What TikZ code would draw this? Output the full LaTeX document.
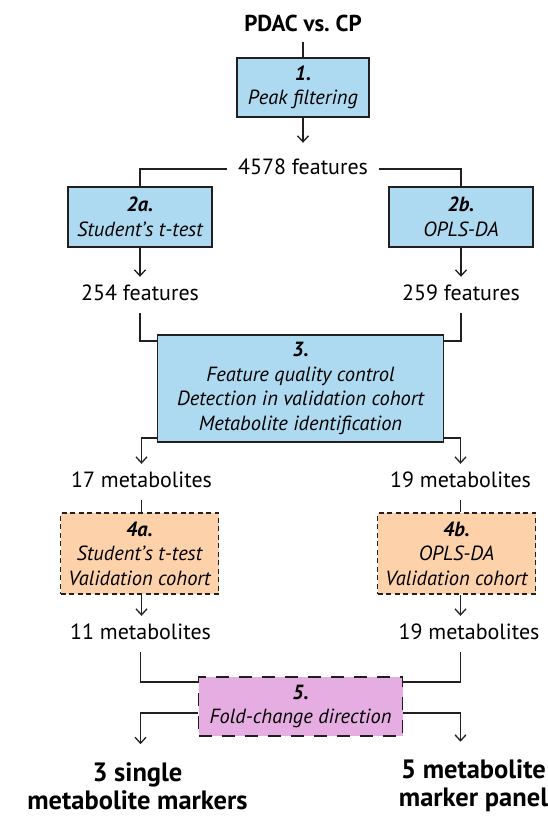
\documentclass[tikz,border=0pt]{standalone}
\usepackage{fontspec}
\setmainfont{PT Sans}
\usetikzlibrary{positioning, arrows.meta}

\definecolor{edgecol}{HTML}{231F20}
\definecolor{stepblue}{HTML}{ADDAF0}
\definecolor{steporange}{HTML}{FDD1A9}
\definecolor{steppink}{HTML}{E6ADE2}

\tikzset{
  stepbox/.style={draw=edgecol, line width=1.8pt, align=center, inner sep=0pt,
    font=\fontsize{20.5}{24.5}\selectfont\itshape},
  valbox/.style={stepbox, fill=steporange, dash pattern=on 5pt off 3.5pt},
  cnt/.style={font=\fontsize{22}{26}\selectfont, inner sep=0pt,
    text height=16pt, text depth=5pt, minimum height=36pt},
  result/.style={font=\fontsize{26.5}{28}\selectfont\bfseries, align=center,
    inner xsep=0pt, inner ysep=18pt},
  link/.style={draw=edgecol, line width=1.3pt},
}

\begin{document}
\begin{tikzpicture}
	[x=1pt, y=-1pt, on grid, >={Straight Barb[length=6pt,width=11pt]}]
   \useasboundingbox (0,0) rectangle (547,818);

   \node[stepbox, fill=stepblue, minimum width=132pt, minimum height=59pt] (s1) at (303,87.5) {\textbf{1.}\\Peak filtering};
   \node[font=\fontsize{23}{26}\selectfont\bfseries, inner ysep=10pt] (title) [above=64.5pt of s1] {PDAC vs.\ CP};
   \node[cnt, inner xsep=11pt] (f4578) [below=81.5pt of s1] {4578 features};

   \node[stepbox, fill=stepblue, minimum width=144pt, minimum height=60pt] (s2a) [below left=48pt and 163pt of f4578] {\textbf{2a.}\\Student’s t-test};
   \node[stepbox, fill=stepblue, minimum width=144pt, minimum height=60pt] (s2b) [below right=48pt and 158pt of f4578] {\textbf{2b.}\\OPLS-DA};
   \node[cnt] (f254) [below=78pt of s2a] {254 features};
   \node[cnt] (f259) [below=78pt of s2b] {259 features};

   \node[stepbox, fill=stepblue, minimum width=286pt, minimum height=107pt] (s3) [below right=93.5pt and 160.5pt of f254] {\textbf{3.}\\Feature quality control\\Detection in validation cohort\\Metabolite identification};
   \node[cnt] (m17) [below left=93.5pt and 159pt of s3] {17 metabolites};
   \node[cnt] (m19a) [below right=93.5pt and 160pt of s3] {19 metabolites};

   \node[valbox, minimum width=158pt, minimum height=81pt] (s4a) [below left=71.5pt and 2pt of m17] {\textbf{4a.}\\Student’s t-test\\Validation cohort};
   \node[valbox, minimum width=158pt, minimum height=81pt] (s4b) [below left=71.5pt and 4pt of m19a] {\textbf{4b.}\\OPLS-DA\\Validation cohort};
   \node[cnt] (m11) [below right=80.5pt and 1pt of s4a] {11 metabolites};
   \node[cnt] (m19b) [below right=80.5pt and 12.5pt of s4b] {19 metabolites};

   \node[stepbox, fill=steppink, dash pattern=on 13pt off 10pt, minimum width=204pt, minimum height=59pt] (s5) [below right=72.5pt and 160pt of m11] {\textbf{5.}\\Fold-change direction};
   \node[result] (out3) [below left=79.5pt and 163pt of s5] {3 single\\metabolite markers};
   \node[result] (out5) [below right=79.5pt and 173pt of s5] {5 metabolite\\marker panel};

   \draw[link] (title.south) -- (title.south |- s1.north);
   \draw[link, ->, shorten >=8pt] (s1) -- (f4578);
   \draw[link] (f4578.west) -| (s2a.north);
   \draw[link] (f4578.east) -| (s2b.north);
   \draw[link, ->] (s2a) -- (f254);
   \draw[link, ->] (s2b) -- (f259);
   \draw[link] (f254.south) |- ([yshift=-7pt]s3.north west);
   \draw[link] (f259.south) |- ([yshift=-7pt]s3.north east);
   \draw[link, ->] ([yshift=5pt]s3.south west) -| (m17.north);
   \draw[link, ->] ([yshift=5pt]s3.south east) -| (m19a.north);
   \draw[link] (m17.south) -- (m17.south |- s4a.north);
   \draw[link] (m19a.south) -- (m19a.south |- s4b.north);
   \draw[link, ->] (s4a.south -| m17) -- (m11.north -| m17);
   \draw[link, ->] (s4b.south -| m19a) -- (m19b.north -| m19a);
   \draw[link] (m11.south) |- ([yshift=-6pt]s5.north west);
   \draw[link] (m19b.south -| m19a) |- ([yshift=-6pt]s5.north east);
   \draw[link, ->] ([yshift=-6.5pt]s5.west) -| (out3.north -| m11);
   \draw[link, ->] ([yshift=-6.5pt]s5.east) -| (out5.north -| m19a);
\end{tikzpicture}
\end{document}
